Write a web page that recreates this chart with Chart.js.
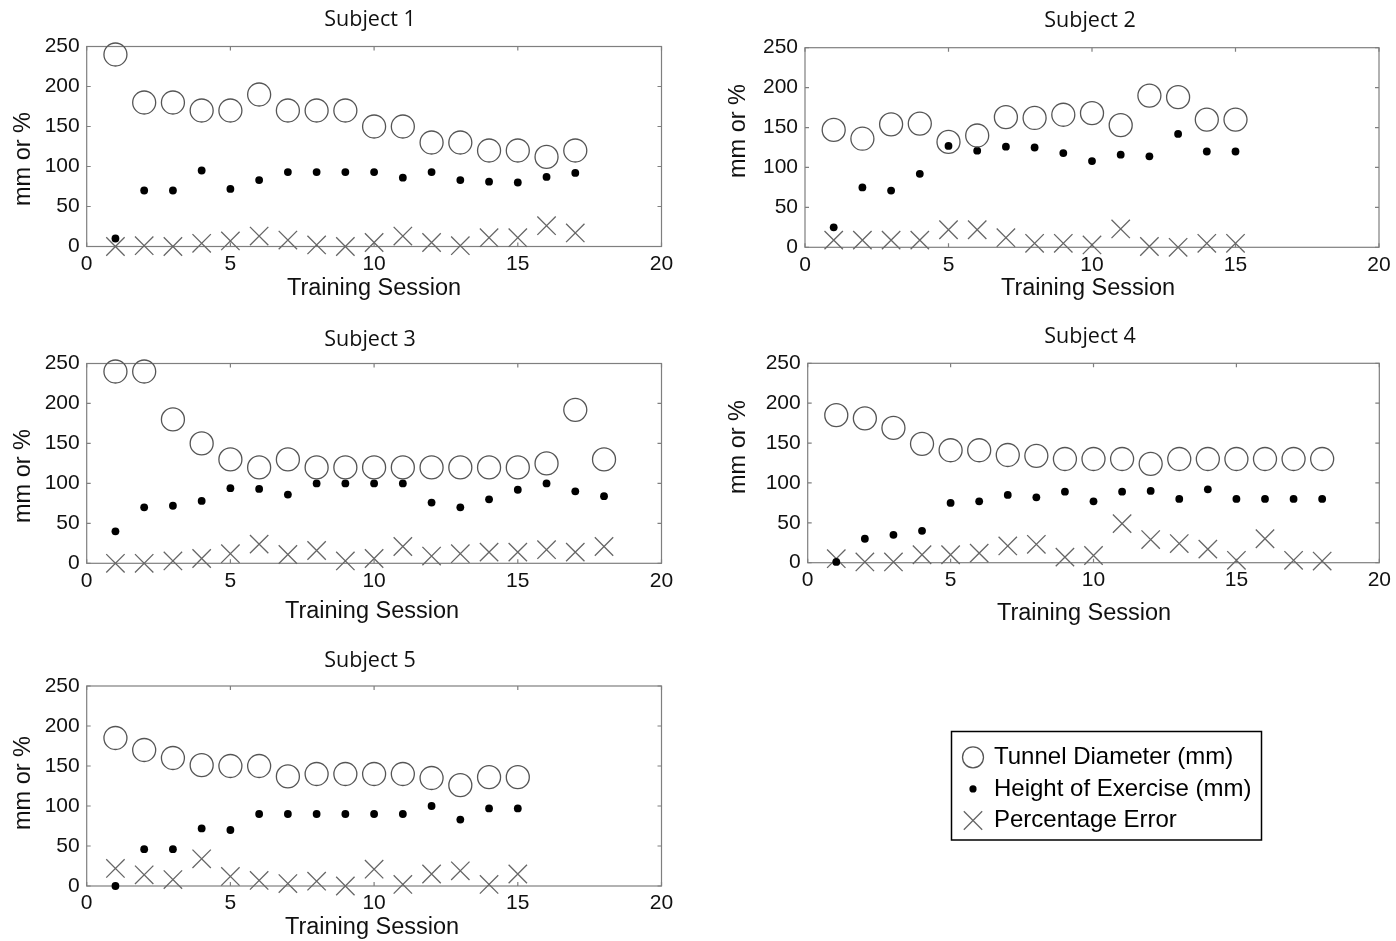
<!DOCTYPE html>
<html>
<head>
<meta charset="utf-8">
<script src="https://cdn.jsdelivr.net/npm/chart.js@4.4.1/dist/chart.umd.min.js"></script>
<style>
html, body { margin: 0; padding: 0; background: #fff; overflow: hidden; }
.panel { position: absolute; }
</style>
</head>
<body>
<div class="panel" id="p1"><canvas id="c1"></canvas></div>
<div class="panel" id="p2"><canvas id="c2"></canvas></div>
<div class="panel" id="p3"><canvas id="c3"></canvas></div>
<div class="panel" id="p4"><canvas id="c4"></canvas></div>
<div class="panel" id="p5"><canvas id="c5"></canvas></div>
<script>
// values (x = training session 1..n)
const seriesNames = ['Tunnel Diameter (mm)', 'Height of Exercise (mm)', 'Percentage Error'];
const xTicks = [0, 5, 10, 15, 20];
const yTicks = [0, 50, 100, 150, 200, 250];

const s1Tunnel = [240, 180, 180, 170, 170, 190, 170, 170, 170, 150, 150, 130, 130, 120, 120, 112, 120];
const s1Height = [10, 70, 70, 95, 72, 83, 93, 93, 93, 93, 86, 93, 83, 81, 80, 87, 92];
const s1Error  = [0, 1, 0, 4, 7, 13, 8, 2, 0, 5, 13, 5, 1, 11, 11, 26, 17];

const s2Tunnel = [147, 136, 154, 155, 132, 140, 163, 162, 166, 168, 153, 190, 188, 160, 160];
const s2Height = [25, 75, 71, 92, 127, 121, 126, 125, 118, 108, 116, 114, 142, 120, 120];
const s2Error  = [9, 9, 9, 9, 22, 22, 12, 5, 5, 3, 23, 1, 0, 5, 5];

const s3Tunnel = [240, 240, 180, 150, 130, 120, 130, 120, 120, 120, 120, 120, 120, 120, 120, 125, 192, 130];
const s3Height = [40, 70, 72, 78, 94, 93, 86, 100, 100, 100, 100, 76, 70, 80, 92, 100, 90, 84];
const s3Error  = [0, 0, 3, 6, 12, 24, 11, 16, 3, 6, 21, 9, 12, 14, 14, 17, 14, 21];

const s4Tunnel = [185, 181, 169, 149, 141, 141, 135, 134, 130, 130, 130, 124, 130, 130, 130, 130, 130, 130];
const s4Height = [1, 30, 35, 40, 75, 77, 85, 82, 89, 77, 89, 90, 80, 92, 80, 80, 80, 80];
const s4Error  = [5, 1, 1, 10, 10, 12, 21, 23, 7, 9, 49, 29, 24, 17, 3, 30, 3, 2];

const s5Tunnel = [185, 170, 160, 151, 150, 150, 137, 140, 140, 140, 140, 135, 126, 136, 136];
const s5Height = [0, 46, 46, 72, 70, 90, 90, 90, 90, 90, 90, 100, 83, 97, 97];
const s5Error  = [22, 14, 8, 34, 12, 7, 3, 6, 0, 21, 2, 15, 19, 2, 15];

const GRAY = '#7f7f7f', TEXT = '#111';
const tickFont = { family: '"Liberation Sans", Arial, sans-serif', size: 21 };
const labelFont = '23.5px "Liberation Sans", Arial, sans-serif';
const titleFont = '21.5px "Open Sans", sans-serif';

function toPoints(arr) {
  return arr.map((v, i) => ({ x: i + 1, y: v }));
}

// panel frame, inward ticks, texts and the legend box
const framePlugin = {
  id: 'frame',
  beforeDatasetsDraw(chart, args, opts) {
    const { ctx, chartArea: a, scales } = chart;
    ctx.save();
    ctx.strokeStyle = GRAY;
    ctx.lineWidth = 1.2;
    ctx.strokeRect(a.left, a.top, a.right - a.left, a.bottom - a.top);
    ctx.beginPath();
    xTicks.forEach(v => {
      const px = scales.x.getPixelForValue(v);
      ctx.moveTo(px, a.bottom); ctx.lineTo(px, a.bottom - 4);
      ctx.moveTo(px, a.top); ctx.lineTo(px, a.top + 4);
    });
    yTicks.forEach(v => {
      const py = scales.y.getPixelForValue(v);
      ctx.moveTo(a.left, py); ctx.lineTo(a.left + 4, py);
      ctx.moveTo(a.right, py); ctx.lineTo(a.right - 4, py);
    });
    ctx.stroke();
    ctx.restore();
  },
  afterDraw(chart, args, opts) {
    const { ctx } = chart;
    ctx.save();
    ctx.fillStyle = TEXT;
    ctx.textAlign = 'center';
    ctx.textBaseline = 'middle';
    ctx.font = titleFont;
    ctx.fillText(opts.title, opts.titleX, opts.titleY);
    ctx.font = labelFont;
    ctx.fillText('Training Session', opts.xLabelX, opts.xLabelY);
    ctx.translate(opts.yLabelX, opts.yLabelY);
    ctx.rotate(-Math.PI / 2);
    ctx.fillText('mm or %', 0, 0);
    ctx.restore();

    if (opts.legend) {
      const L = opts.legend;
      ctx.save();
      ctx.strokeStyle = '#000';
      ctx.lineWidth = 1.5;
      ctx.strokeRect(L.x, L.y, L.w, L.h);
      ctx.font = '24px "Liberation Sans", Arial, sans-serif';
      ctx.textAlign = 'left';
      ctx.textBaseline = 'middle';
      chart.data.datasets.forEach((ds, i) => {
        const cy = L.y + L.firstRow + i * L.rowGap;
        ctx.strokeStyle = ds.borderColor;
        ctx.fillStyle = ds.backgroundColor;
        ctx.lineWidth = ds.borderWidth;
        Chart.helpers.drawPoint(ctx, {
          pointStyle: ds.pointStyle,
          radius: L.radius[i],
          borderWidth: ds.borderWidth,
          rotation: 0
        }, L.x + L.markerX, cy);
        ctx.fillStyle = '#000';
        ctx.fillText(ds.label, L.x + L.textX, cy);
      });
      ctx.restore();
    }
  }
};

// layout: canvas box and plot box in page pixels
const panels = [
  { id: 'c1', wrap: 'p1', title: 'Subject 1', data: [s1Tunnel, s1Height, s1Error],
    box: { x: 0, y: 0, w: 700, h: 310 }, plot: { L: 86.7, R: 661.5, T: 46.5, B: 246.5 },
    titlePos: [370, 20], xLab: [374, 289], yLab: [24, 159] },
  { id: 'c2', wrap: 'p2', title: 'Subject 2', data: [s2Tunnel, s2Height, s2Error],
    box: { x: 718, y: 0, w: 678, h: 310 }, plot: { L: 805, R: 1379, T: 47.7, B: 247.3 },
    titlePos: [1090, 21], xLab: [1088, 289], yLab: [739, 131] },
  { id: 'c3', wrap: 'p3', title: 'Subject 3', data: [s3Tunnel, s3Height, s3Error],
    box: { x: 0, y: 318, w: 700, h: 312 }, plot: { L: 86.7, R: 661.5, T: 363.5, B: 563.3 },
    titlePos: [370, 340], xLab: [372, 612], yLab: [24, 476] },
  { id: 'c4', wrap: 'p4', title: 'Subject 4', data: [s4Tunnel, s4Height, s4Error],
    box: { x: 718, y: 318, w: 678, h: 312 }, plot: { L: 807.7, R: 1381, T: 363.3, B: 562.7 },
    titlePos: [1090, 337], xLab: [1084, 614], yLab: [738.5, 447] },
  { id: 'c5', wrap: 'p5', title: 'Subject 5', data: [s5Tunnel, s5Height, s5Error],
    box: { x: 0, y: 632, w: 1396, h: 309 }, plot: { L: 86.7, R: 661.5, T: 686, B: 886 },
    titlePos: [370, 661], xLab: [372, 928], yLab: [24, 783],
    legend: { x: 951.5, y: 731.5, w: 310, h: 108.5, firstRow: 25.8, rowGap: 31.6,
              markerX: 21.5, textX: 42.5, radius: [10.5, 3.6, 13] } }
];

panels.forEach(p => {
  const b = p.box, q = p.plot;
  const wrap = document.getElementById(p.wrap);
  wrap.style.left = b.x + 'px';
  wrap.style.top = b.y + 'px';
  wrap.style.width = b.w + 'px';
  wrap.style.height = b.h + 'px';

  let legend = null;
  if (p.legend) {
    legend = Object.assign({}, p.legend, { x: p.legend.x - b.x, y: p.legend.y - b.y });
  }

  new Chart(document.getElementById(p.id), {
    type: 'scatter',
    data: {
      datasets: [
        {
          label: seriesNames[0],
          data: toPoints(p.data[0]),
          pointStyle: 'circle',
          pointRadius: 11.5,
          borderWidth: 1.3,
          borderColor: '#555',
          backgroundColor: 'rgba(0,0,0,0)',
          clip: false
        },
        {
          label: seriesNames[1],
          data: toPoints(p.data[1]),
          pointStyle: 'circle',
          pointRadius: 3.9,
          borderWidth: 0,
          borderColor: '#000',
          backgroundColor: '#000',
          clip: false
        },
        {
          label: seriesNames[2],
          data: toPoints(p.data[2]),
          pointStyle: 'crossRot',
          pointRadius: 13,
          borderWidth: 1.3,
          borderColor: '#666',
          backgroundColor: '#666',
          clip: false
        }
      ]
    },
    options: {
      responsive: true,
      maintainAspectRatio: false,
      animation: false,
      events: [],
      layout: { padding: { left: 0, top: q.T - b.y, right: b.x + b.w - q.R, bottom: 0 } },
      plugins: {
        legend: { display: false },
        tooltip: { enabled: false },
        frame: {
          title: p.title,
          titleX: p.titlePos[0] - b.x, titleY: p.titlePos[1] - b.y,
          xLabelX: p.xLab[0] - b.x, xLabelY: p.xLab[1] - b.y,
          yLabelX: p.yLab[0] - b.x, yLabelY: p.yLab[1] - b.y,
          legend: legend
        }
      },
      scales: {
        x: {
          type: 'linear', min: 0, max: 20,
          grid: { display: false, drawTicks: false },
          border: { display: false },
          ticks: { stepSize: 5, padding: 5, color: TEXT, font: tickFont, maxRotation: 0 },
          afterFit: s => { s.height = b.y + b.h - q.B; }
        },
        y: {
          type: 'linear', min: 0, max: 250,
          grid: { display: false, drawTicks: false },
          border: { display: false },
          ticks: { stepSize: 50, padding: 7, color: TEXT, font: tickFont },
          afterFit: s => { s.width = q.L - b.x; }
        }
      }
    },
    plugins: [framePlugin]
  });
});
</script>
</body>
</html>
